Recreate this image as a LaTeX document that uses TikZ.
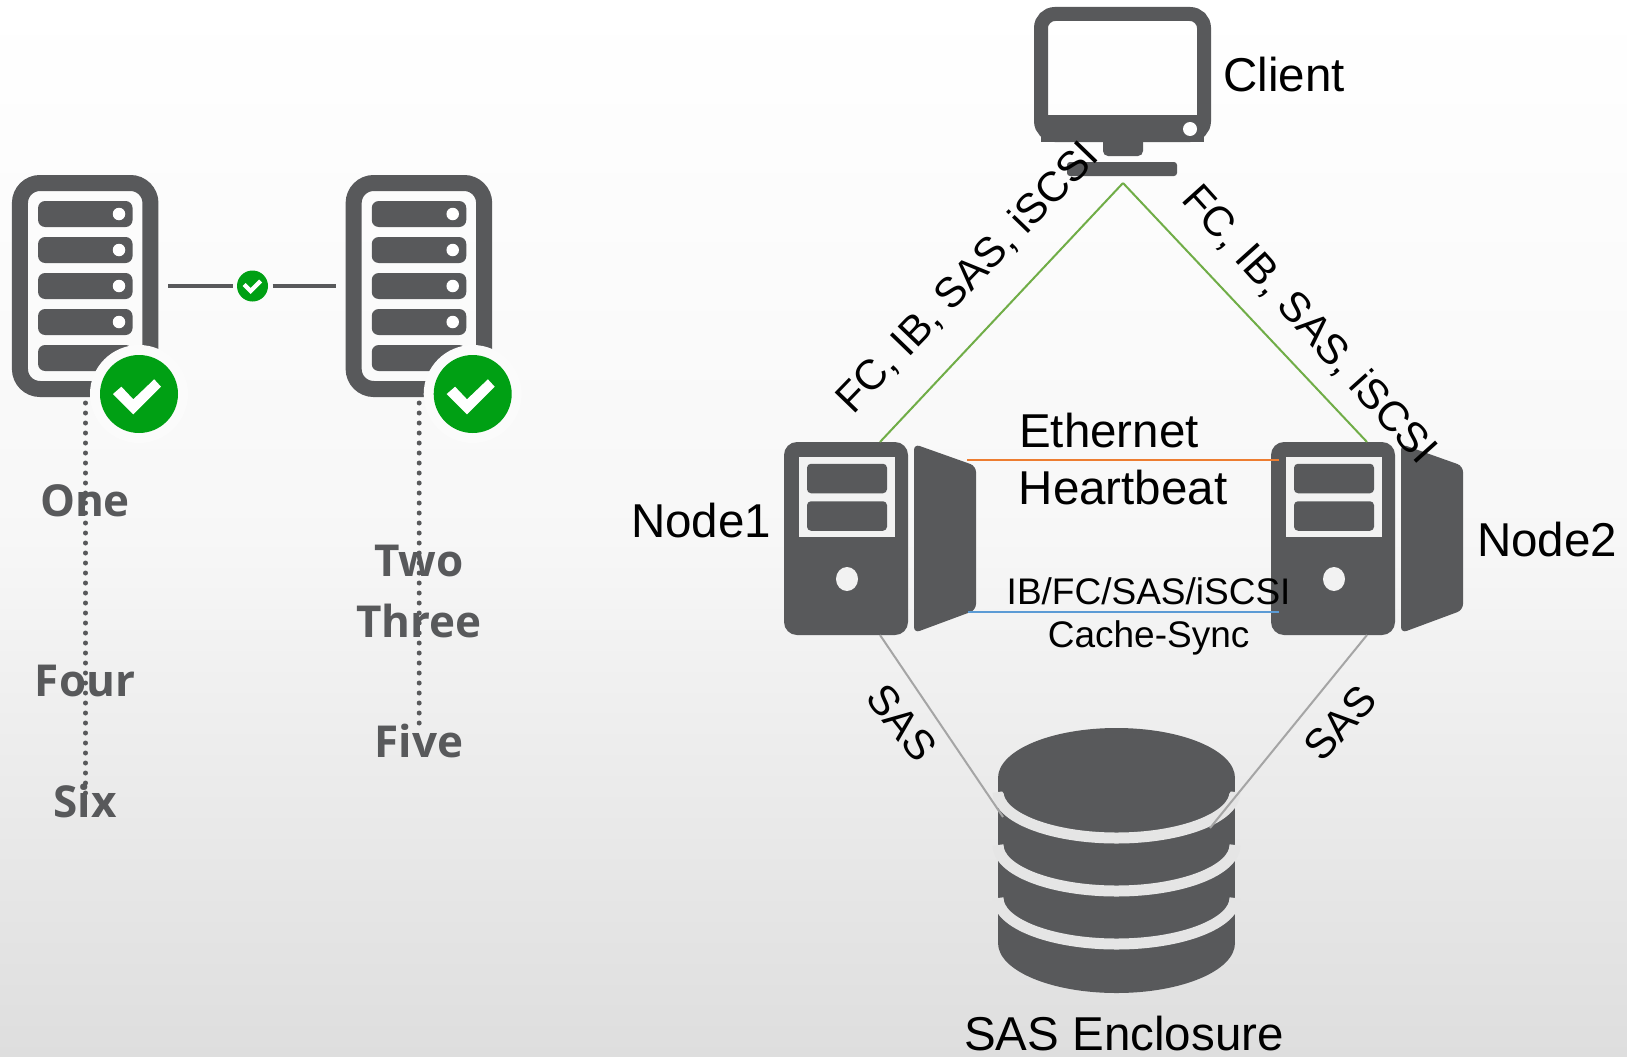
\documentclass[tikz,border=0pt]{standalone}
\usepackage{fontspec}
\setmainfont{Liberation Sans}
\newfontfamily\opensans{Open Sans}
\usetikzlibrary{shapes.geometric}
\definecolor{icongrey}{HTML}{58595B}
\definecolor{okgreen}{HTML}{00A014}
\definecolor{bgtop}{HTML}{FFFFFF}
\definecolor{bgbot}{HTML}{DEDEDE}
\definecolor{halobg}{HTML}{FBFBFB}
\definecolor{linkgreen}{HTML}{70AD47}
\definecolor{linkorange}{HTML}{ED7D31}
\definecolor{linkblue}{HTML}{5B9BD5}
\definecolor{linkgrey}{HTML}{A5A5A5}
\tikzset{
    srvbox/.style={draw=icongrey, line width=16pt, rounded corners=20pt, minimum width=130.5pt, minimum height=206pt, inner sep=0pt},
    slotbox/.style={fill=icongrey, rounded corners=7pt, minimum width=94.5pt, minimum height=26pt, inner sep=0pt},
    led/.style={circle, fill=white, minimum size=12.5pt, inner sep=0pt},
    halo/.style={circle, fill=halobg, minimum size=98pt, inner sep=0pt},
    badge/.style={circle, fill=okgreen, minimum size=78pt, inner sep=0pt},
    smallbadge/.style={circle, fill=okgreen, minimum size=31pt, inner sep=0pt},
    towerbox/.style={fill=icongrey, rounded corners=13pt, minimum width=124pt, minimum height=193pt, inner sep=0pt},
    bayframe/.style={fill=white!95!black, minimum width=96pt, minimum height=80pt, inner sep=0pt},
    baybox/.style={fill=icongrey, rounded corners=4pt, minimum width=80pt, minimum height=29.5pt, inner sep=0pt},
    leftlabel/.style={font=\opensans\bfseries\fontsize{44}{44}\selectfont, text=icongrey, inner sep=0pt},
    biglabel/.style={font=\fontsize{47.5}{47.5}\selectfont, inner sep=0pt},
    linklabel/.style={font=\fontsize{42}{42}\selectfont, inner sep=0pt},
    smalllabel/.style={font=\fontsize{37}{37}\selectfont, inner sep=0pt},
    link/.style={line width=2pt},
    dotline/.style={draw=icongrey, line width=5pt, line cap=round, dash pattern=on 0pt off 10pt}
}
\begin{document}
\begin{tikzpicture}[x=1pt, y=-1pt]

    % Background
    \shade[top color=bgtop, bottom color=bgbot, middle color=bgtop!97!black] (0,0) rectangle (1627,1057);
    \useasboundingbox (0,0) rectangle (1627,1057);

    % Dotted lines behind the left labels
    \foreach \nom/\xx/\yy in {srvA/85.5/800, srvB/419.2/730} {
        \coordinate (\nom top) at (\xx,403);
        \coordinate (\nom end) at (\xx,\yy);
        \draw[dotline] (\nom top) -- (\nom end);
    }

    % Left servers
    \foreach \nom/\xx in {srvA/0, srvB/333.7} {
        \node[srvbox] (\nom) at (85.2+\xx,286) {};
        \foreach \j in {1,...,5} {
            \node[slotbox] (\nom s\j) at (85.3+\xx,178+36*\j) {};
        }
        \foreach \j in {1,...,4} {
            \node[led] (\nom d\j) at (119+\xx,178+36*\j) {};
        }
        \node[halo] (\nom h) at (139+\xx,394) {};
        \node[badge] (\nom k) at (139+\xx,394) {};
        \fill[white] (113+\xx,394) -- (121.4+\xx,386.7) -- (133.3+\xx,399.3) -- (154.2+\xx,379.3) -- (161+\xx,386.7) -- (133.3+\xx,414.3) -- cycle;
    }

    % Link between the servers
    \node[smallbadge] (midk) at (252.5,286) {};
    \fill[white] (242.5,286) -- (245.5,283) -- (250.5,288) -- (259,279.5) -- (262,282.5) -- (250.5,294) -- cycle;
    \coordinate (midA) at (168,286);
    \coordinate (midB) at (336,286);
    \draw[icongrey, line width=4.5pt] (midA) -- (232.6,286);
    \draw[icongrey, line width=4.5pt] (272.5,286) -- (midB);

    % Labels under the servers
    \foreach \nom/\xx/\yy/\nm in {One/85/501/a, Four/85/681/b, Six/85/801/c, Two/419/561/d, Three/419/621/e, Five/419/741/f} {
        \node[leftlabel] (lab\nm) at (\xx,\yy) {\nom};
    }

    % Client
    \node[draw=icongrey, line width=14pt, rounded corners=14pt, minimum width=163pt, minimum height=121pt, inner sep=0pt] (client) at (1122.5,74.5) {};
    \fill[icongrey] (1041,115) rectangle (1204,142);
    \node[circle, fill=white, minimum size=14pt, inner sep=0pt] (clientd) at (1190,129) {};
    \node[fill=icongrey, rounded corners=5pt, minimum width=40pt, minimum height=26pt, inner sep=0pt] (neck) at (1123,143) {};
    \node[fill=icongrey, rounded corners=3pt, minimum width=110pt, minimum height=14pt, inner sep=0pt] (stand) at (1122,169) {};
    \coordinate (apex) at (1123,183);

    % Towers
    \foreach \nom/\xx in {nodeA/0, nodeB/487} {
        \node[towerbox] (\nom) at (846+\xx,538.5) {};
        \fill[icongrey, rounded corners=6pt] (914+\xx,444) -- (976+\xx,466) -- (976+\xx,610) -- (914+\xx,633) -- cycle;
        \node[bayframe] (\nom f) at (847+\xx,497) {};
        \node[baybox] (\nom a) at (847+\xx,478.5) {};
        \node[baybox] (\nom b) at (847+\xx,516) {};
        \node[ellipse, fill=white!95!black, minimum width=22pt, minimum height=24pt, inner sep=0pt] (\nom h) at (847+\xx,579) {};
        \coordinate (\nom top) at (880+\xx,442);
        \coordinate (\nom bot) at (880+\xx,635);
        \coordinate (\nom r) at (967+\xx*0,460);
    }

    % Enclosure
    \fill[icongrey] (998,778) rectangle (1235,943);
    \node[ellipse, fill=icongrey, minimum width=237pt, minimum height=100pt, inner sep=0pt] (enc) at (1116.5,943) {};
    \foreach \yy in {792,845,898} {
        \draw[white!90!black, line width=11pt] (998,\yy) arc[start angle=180, end angle=360, x radius=118.5pt, y radius=46pt];
    }
    \node[ellipse, fill=icongrey, minimum width=237pt, minimum height=100pt, inner sep=0pt] (enctop) at (1116.5,778) {};
    \coordinate (encL) at (1003,817);
    \coordinate (encR) at (1210,828);

    % Links
    \draw[link, linkgreen] (apex) -- (nodeAtop);
    \draw[link, linkgreen] (apex) -- (nodeBtop);
    \coordinate (ethA) at (967,460);
    \coordinate (ethB) at (1279,460);
    \coordinate (syncA) at (968,612);
    \coordinate (syncB) at (1279,612);
    \draw[link, linkorange] (ethA) -- (ethB);
    \draw[link, linkblue] (syncA) -- (syncB);
    \draw[link, linkgrey] (nodeAbot) -- (encL);
    \draw[link, linkgrey] (nodeBbot) -- (encR);

    % Labels
    \node[biglabel] (clientl) at (1284,75) {Client};
    \node[biglabel] (node1l) at (701,521) {Node1};
    \node[biglabel] (node2l) at (1547,540) {Node2};
    \node[biglabel] (ethl) at (1109,431) {Ethernet};
    \node[biglabel] (hbl) at (1123,488) {Heartbeat};
    \node[smalllabel] (ibl) at (1148.6,591) {IB/FC/SAS/iSCSI};
    \node[smalllabel] (csl) at (1148.6,638) {Cache-Sync};
    \node[biglabel] (encl) at (1124,1034) {SAS Enclosure};
    \node[linklabel, rotate=46] (fcA) at (968,278) {FC, IB, SAS, iSCSI};
    \node[linklabel, rotate=-48] (fcB) at (1309,325) {FC, IB, SAS, iSCSI};
    \node[linklabel, rotate=-52] (sasA) at (902,723) {SAS};
    \node[linklabel, rotate=48] (sasB) at (1340,723) {SAS};

\end{tikzpicture}
\end{document}
